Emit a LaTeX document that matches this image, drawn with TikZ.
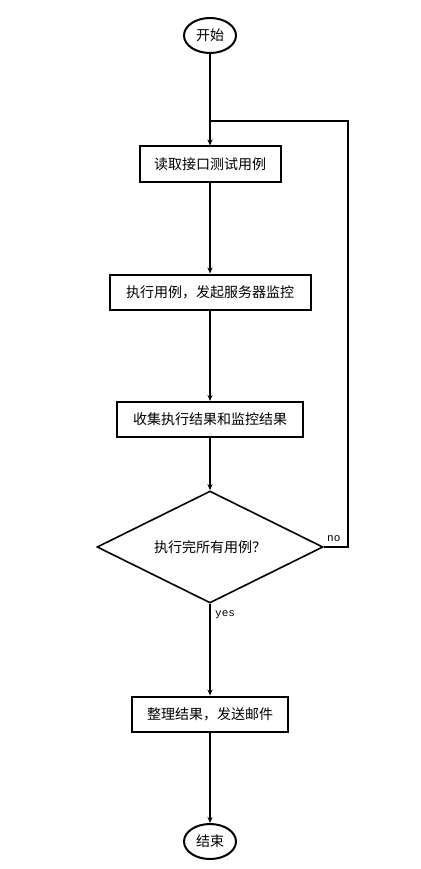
\documentclass[tikz,border=0pt]{standalone}
\usepackage{fontspec}
\setmainfont{Noto Sans CJK SC}
\setmonofont{Liberation Mono}
\usetikzlibrary{shapes.geometric,arrows.meta}
\begin{document}
\begin{tikzpicture}[x=1pt,y=-1pt,
  every node/.style={font=\fontsize{14}{16}\selectfont, inner sep=0pt},
  terminal/.style={draw, line width=2pt, ellipse, minimum width=52pt, minimum height=35pt},
  procbox/.style={draw, line width=2pt, rectangle, minimum height=35pt},
  decision/.style={draw, line width=1.6pt, diamond, aspect=2, minimum width=226pt, minimum height=112pt},
  flow/.style={line width=2pt, -{Stealth[length=6pt,width=5pt]}},
  plain/.style={line width=2pt},
  lbl/.style={font=\ttfamily\fontsize{11}{12}\selectfont}
]
\useasboundingbox (0,0) rectangle (420,869);
\node[terminal] (start) at (210,35.5) {开始};
\node[procbox, minimum width=141pt] (b1) at (210,164) {读取接口测试用例};
\node[procbox, minimum width=201pt] (b2) at (210,292) {执行用例，发起服务器监控};
\node[procbox, minimum width=186pt] (b3) at (210,419.5) {收集执行结果和监控结果};
\node[decision] (d) at (210,547) {执行完所有用例？};
\node[procbox, minimum width=156pt] (b4) at (210,714) {整理结果，发送邮件};
\node[terminal] (end) at (210,841.5) {结束};
\coordinate (j) at (210,121);
\coordinate (r1) at (348,547);
\coordinate (r2) at (348,121);
\draw[flow] (start) -- (b1);
\draw[flow] (b1) -- (b2);
\draw[flow] (b2) -- (b3);
\draw[flow] (b3) -- (d);
\draw[flow] (d) -- (b4);
\draw[flow] (b4) -- (end);
\draw[plain] (d.east) -- (r1) -- (r2) -- (j);
\node[lbl, anchor=west] (no) at (327,539) {no};
\node[lbl, anchor=west] (yes) at (215,615) {yes};
\end{tikzpicture}
\end{document}
